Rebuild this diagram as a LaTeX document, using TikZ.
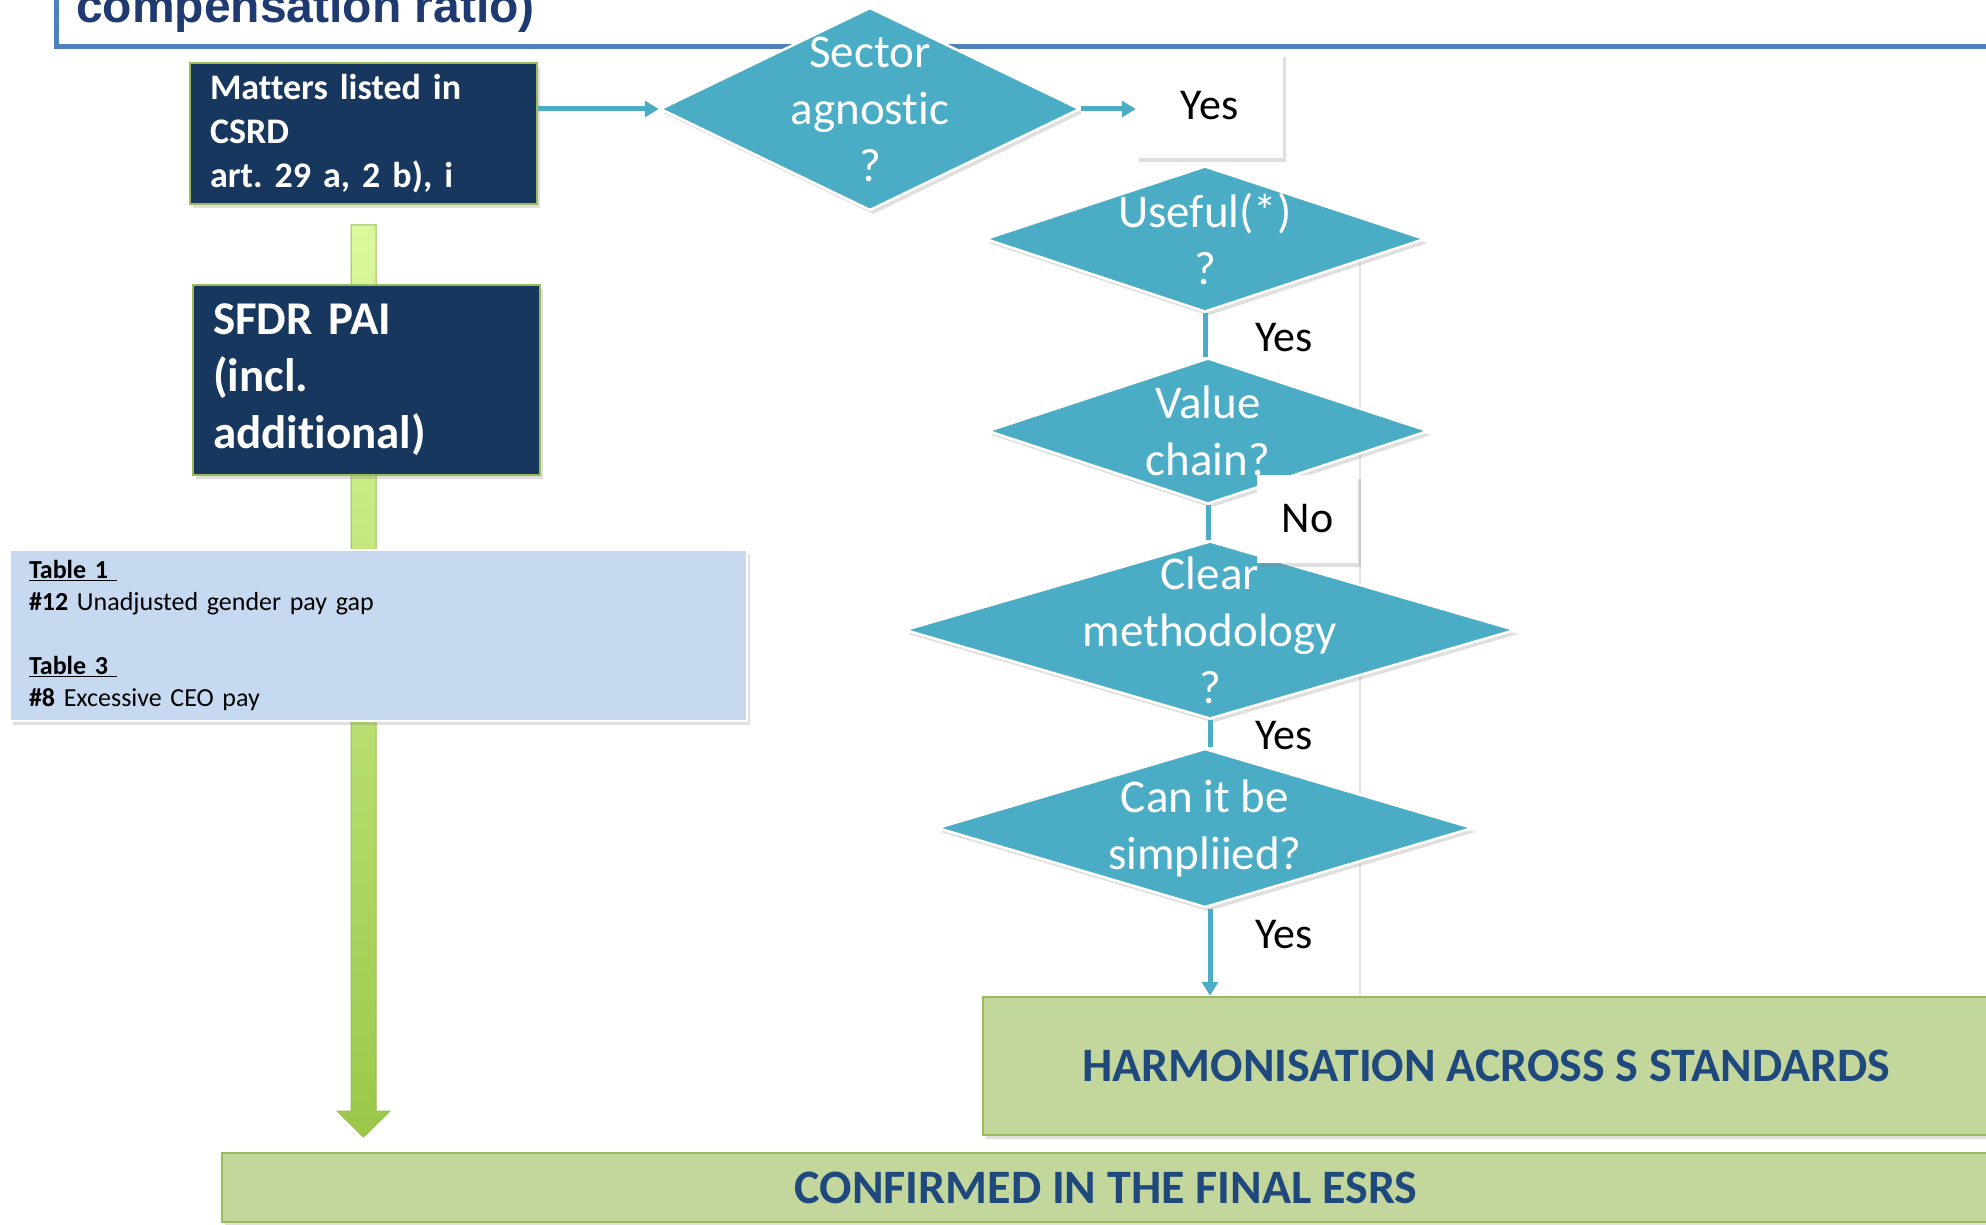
\documentclass[tikz,border=0pt]{standalone}
\usepackage{fontspec}
\setmainfont{Carlito}[Ligatures={NoCommon}]
\newfontfamily\titlefont{Liberation Sans}
\usepackage{tikz}
\frenchspacing
\definecolor{navy}{RGB}{23, 55, 94}
\definecolor{leaf}{RGB}{155, 187, 89}
\definecolor{sky}{RGB}{75, 172, 198}
\definecolor{sage}{RGB}{195, 214, 155}
\definecolor{ice}{RGB}{198, 217, 241}
\definecolor{ink}{RGB}{31, 73, 125}
\definecolor{deep}{RGB}{30, 58, 112}
\definecolor{frame}{RGB}{79, 129, 189}
\definecolor{lime}{RGB}{218, 249, 155}
\definecolor{grass}{RGB}{155, 200, 74}
\usetikzlibrary{positioning}
\usetikzlibrary{shapes.geometric}
\usetikzlibrary{shadows}
\usetikzlibrary{arrows.meta}

\begin{document}
\begin{tikzpicture}[
  every node/.style={inner sep=0pt},
  softshadow/.style={drop shadow={opacity=0.25, shadow xshift=3pt, shadow yshift=-4pt}},
  navybox/.style={rectangle, fill=navy, draw=leaf, line width=1.5pt, text=white, align=left, softshadow},
  query/.style={diamond, fill=sky, draw=white, line width=2.5pt, softshadow},
  qtext/.style={text=white, align=center, font=\fontsize{47pt}{57pt}\selectfont},
  answer/.style={font=\fontsize{44pt}{53pt}\selectfont},
  band/.style={rectangle, fill=sage, draw=leaf, line width=2.5pt, text=ink, softshadow},
  flow/.style={line width=5pt, color=sky},
]
\useasboundingbox (0pt, 0pt) rectangle (1986pt, -1225pt);
\clip (0pt, 0pt) rectangle (1986pt, -1225pt);
% title frame
\draw [line width=5pt, color=frame] (56pt, 20pt) -- (56pt, -47pt) -- (2010pt, -47pt);
\node (0) [anchor=base west, text=deep, font=\titlefont\bfseries\fontsize{48pt}{56pt}\selectfont] at (76pt, -23pt) {compensation ratio)};
\draw [line width=1.5pt, color=black!10] (1360pt, -262pt) -- (1360pt, -997pt);
% green arrow
\coordinate (13) at (363.5pt, -225pt);
\coordinate (14) at (363.5pt, -1137pt);
\shade [top color=lime, bottom color=grass, draw=leaf, line width=1pt] ([xshift=-12.5pt]13) -- ([xshift=12.5pt]13) -- ([xshift=12.5pt, yshift=26pt]14) -- ([xshift=26.5pt, yshift=26pt]14) -- (14) -- ([xshift=-26.5pt, yshift=26pt]14) -- ([xshift=-12.5pt, yshift=26pt]14) -- cycle;
% boxes
\node (1) [navybox, text width=307pt, inner xsep=20pt, minimum height=141pt, font=\bfseries\fontsize{36pt}{44pt}\selectfont] at (363.5pt, -133.5pt) {Matters listed in\\CSRD\\art. 29 a, 2 b), i};
\node (2) [navybox, text width=307pt, inner xsep=20pt, minimum height=190pt, font=\bfseries\fontsize{47pt}{57pt}\selectfont] at (366.5pt, -380pt) {SFDR PAI\\(incl.\\additional)};
\node (3) [rectangle, fill=ice, draw=white, line width=2pt, text width=699pt, inner xsep=19pt, minimum height=171pt, align=left, font=\fontsize{26pt}{32pt}\selectfont, softshadow] at (378.5pt, -635.5pt) {\underline{\textbf{Table 1}\ }\\\textbf{\#12} Unadjusted gender pay gap\\[32pt]\underline{\textbf{Table 3}\ }\\\textbf{\#8} Excessive CEO pay};
\node (11) [band, minimum width=1007pt, minimum height=138pt, font=\bfseries\fontsize{48pt}{56pt}\selectfont] at (1486.5pt, -1066pt) {HARMONISATION ACROSS S STANDARDS};
\node (12) [band, minimum width=1768pt, minimum height=69pt, font=\bfseries\fontsize{48pt}{56pt}\selectfont] at (1106pt, -1187.5pt) {CONFIRMED IN THE FINAL ESRS};
% questions
\node (4) [query, minimum width=420pt, minimum height=203pt, label={[qtext]center:Sector\\agnostic\\?}] at (870pt, -109pt) {};
\node (5) [answer, rectangle, fill=white, minimum width=147pt, minimum height=105pt, softshadow] at (1209.5pt, -105.5pt) {Yes};
\node (6) [query, minimum width=440pt, minimum height=146pt, label={[qtext]center:Useful(*)\\?}] at (1205pt, -239pt) {};
\node (7) [query, minimum width=441pt, minimum height=146pt, label={[qtext]center:Value\\chain?}] at (1208pt, -431pt) {};
\node (9) [query, minimum width=611pt, minimum height=178pt, label={[qtext]center:Clear\\methodology\\?}] at (1210pt, -630pt) {};
\node (10) [query, minimum width=536pt, minimum height=159pt, label={[qtext]center:Can it be\\simpliied?}] at (1205pt, -828pt) {};
% connectors
\draw [flow, -{Triangle[length=14pt, width=16pt]}] (1.east |- 4.west) to (4.west);
\draw [flow, -{Triangle[length=14pt, width=16pt]}] (4.east) to (4.east -| 5.west);
\draw [flow] (6.south) to (6.south |- 7.north);
\draw [flow] (7.south) to (7.south |- 9.north);
\draw [flow] (9.south) to (9.south |- 10.north);
\draw [flow, -{Triangle[length=14pt, width=16pt]}] ([xshift=5pt]10.south) to ([xshift=5pt]10.south |- 11.north);
% answers
\node (8) [answer, rectangle, fill=white, minimum width=101pt, minimum height=88pt, softshadow] at (1307.5pt, -519pt) {No};
\node (15) [answer] at (1284pt, -338pt) {Yes};
\node (16) [answer] at (1284pt, -736pt) {Yes};
\node (17) [answer] at (1284pt, -935pt) {Yes};
\end{tikzpicture}
\end{document}
